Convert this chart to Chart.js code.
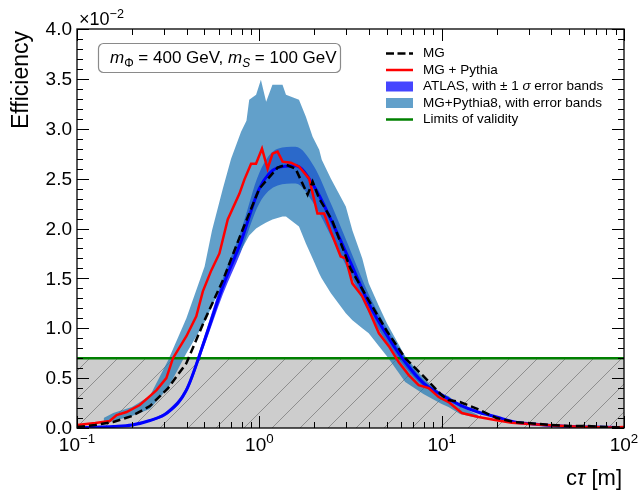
<!DOCTYPE html>
<html>
<head>
<meta charset="utf-8">
<script src="https://cdn.jsdelivr.net/npm/chart.js@4.4.1/dist/chart.umd.min.js"></script>
<style>
  body { margin: 0; background: #fff; }
  canvas { display: block; }
</style>
</head>
<body>
<canvas id="myChart" width="639" height="493"></canvas>
<script>
// valeurs (efficacite en unites de 1e-2)
const gridX = [0.1, 0.126, 0.158, 0.2, 0.251, 0.316, 0.398, 0.501, 0.631, 0.794, 1, 1.26, 1.58, 2, 2.51, 3.16, 3.98, 5.01, 6.31, 7.94, 10, 12.6, 15.8, 20, 25.1, 31.6, 39.8, 50.1, 63.1, 79.4, 100];
const atlasY  = [0.005, 0.008, 0.015, 0.03, 0.075, 0.16, 0.38, 0.88, 1.42, 1.87, 2.40, 2.61, 2.63, 2.42, 2.06, 1.66, 1.25, 0.93, 0.66, 0.45, 0.33, 0.23, 0.16, 0.11, 0.06, 0.04, 0.025, 0.015, 0.01, 0.007, 0.005];
const atlasHi = [0.006, 0.009, 0.017, 0.034, 0.085, 0.18, 0.41, 0.93, 1.50, 1.98, 2.56, 2.80, 2.82, 2.62, 2.22, 1.78, 1.34, 1.00, 0.71, 0.48, 0.35, 0.245, 0.17, 0.115, 0.065, 0.043, 0.027, 0.016, 0.011, 0.008, 0.006];
const atlasLo = [0.004, 0.007, 0.013, 0.026, 0.065, 0.14, 0.35, 0.83, 1.34, 1.77, 2.25, 2.43, 2.45, 2.24, 1.90, 1.54, 1.16, 0.86, 0.61, 0.42, 0.31, 0.215, 0.15, 0.105, 0.055, 0.037, 0.023, 0.014, 0.009, 0.006, 0.004];

// MG + Pythia (rouge)
const redX = [0.1, 0.126, 0.151, 0.165, 0.187, 0.221, 0.251, 0.273, 0.309, 0.336, 0.398, 0.451, 0.49, 0.545, 0.604, 0.671, 0.778, 0.828, 0.901, 0.959, 1.034, 1.11, 1.182, 1.259, 1.341, 1.49, 1.654, 1.876, 2.083, 2.266, 2.465, 2.793, 2.977, 3.236, 3.668, 3.99, 4.527, 5.13, 5.82, 6.6, 7.48, 8.49, 9.63, 10.92, 12.91, 15.93, 19.65, 24.2, 36.9, 56.1, 84.9, 100];
const redY = [0.03, 0.05, 0.07, 0.13, 0.16, 0.23, 0.32, 0.38, 0.50, 0.70, 0.92, 1.12, 1.37, 1.58, 1.75, 2.09, 2.35, 2.49, 2.65, 2.65, 2.80, 2.60, 2.75, 2.77, 2.67, 2.66, 2.62, 2.50, 2.15, 2.15, 1.97, 1.72, 1.70, 1.45, 1.32, 1.18, 0.95, 0.82, 0.66, 0.53, 0.43, 0.40, 0.31, 0.26, 0.15, 0.11, 0.08, 0.053, 0.03, 0.013, 0.006, 0.01];

// MG (tirets noirs)
const mgX = [0.1, 0.126, 0.158, 0.2, 0.251, 0.316, 0.398, 0.501, 0.631, 0.794, 1, 1.26, 1.4, 1.58, 1.84, 1.96, 2.13, 2.51, 3.16, 3.98, 5.01, 6.31, 7.94, 10, 10.9, 12.6, 15.8, 20, 25.1, 31.6, 39.8, 50.1, 63.1, 79.4, 100];
const mgY = [0.01, 0.03, 0.06, 0.12, 0.22, 0.40, 0.65, 1.08, 1.48, 1.95, 2.40, 2.61, 2.64, 2.60, 2.34, 2.47, 2.30, 2.08, 1.60, 1.28, 0.97, 0.70, 0.52, 0.33, 0.28, 0.26, 0.19, 0.10, 0.06, 0.045, 0.03, 0.02, 0.02, 0.01, 0.005];

// MG+Pythia8, bande d'erreur
const bandX = [0.14, 0.158, 0.2, 0.251, 0.316, 0.398, 0.501, 0.55, 0.631, 0.7, 0.794, 0.85, 0.88, 0.96, 1.02, 1.09, 1.18, 1.34, 1.40, 1.65, 1.80, 1.96, 2.13, 2.2, 2.47, 2.98, 3.24, 3.67, 3.98, 4.53, 5.01, 6.31, 7.94, 10, 10.9, 12.6, 15.8];
const bandHi = [0.10, 0.15, 0.21, 0.32, 0.68, 1.10, 1.62, 1.98, 2.40, 2.70, 2.97, 3.08, 3.29, 3.34, 3.49, 3.27, 3.44, 3.44, 3.34, 3.29, 3.12, 2.92, 2.79, 2.69, 2.50, 2.22, 1.98, 1.70, 1.45, 1.22, 1.05, 0.72, 0.50, 0.34, 0.32, 0.22, 0.13];
const bandLo = [0.04, 0.07, 0.12, 0.19, 0.40, 0.75, 1.06, 1.22, 1.45, 1.60, 1.78, 1.88, 1.93, 2.00, 2.03, 2.06, 2.09, 2.12, 2.12, 2.02, 1.85, 1.70, 1.55, 1.50, 1.35, 1.15, 1.08, 1.00, 0.95, 0.82, 0.72, 0.46, 0.34, 0.24, 0.21, 0.14, 0.10];

const limitY = 0.7;

const FONT = "'Liberation Sans', Arial, sans-serif";

function pts(xs, ys) {
  return xs.map((x, i) => ({ x: x, y: ys[i] }));
}

// motif hachure pour la zone hors validite
function hatchPattern() {
  const c = document.createElement('canvas');
  c.width = 28; c.height = 28;
  const g = c.getContext('2d');
  g.fillStyle = '#cdcdcd';
  g.fillRect(0, 0, 28, 28);
  g.strokeStyle = '#8e8e8e';
  g.lineWidth = 1;
  g.beginPath();
  g.moveTo(-2, 30); g.lineTo(30, -2);
  g.stroke();
  return g.createPattern(c, 'repeat');
}

// texte avec morceaux italiques / indices / exposants
function richText(ctx, x, y, parts, size) {
  let cx = x;
  for (const p of parts) {
    const s = p.sub || p.sup ? size * 0.7 : size;
    ctx.font = (p.it ? 'italic ' : '') + s + 'px ' + FONT;
    const dy = p.sub ? size * 0.25 : (p.sup ? -size * 0.4 : 0);
    ctx.fillText(p.t, cx, y + dy);
    cx += ctx.measureText(p.t).width;
  }
  return cx - x;
}
function richWidth(ctx, parts, size) {
  let w = 0;
  for (const p of parts) {
    const s = p.sub || p.sup ? size * 0.7 : size;
    ctx.font = (p.it ? 'italic ' : '') + s + 'px ' + FONT;
    w += ctx.measureText(p.t).width;
  }
  return w;
}

const decor = {
  id: 'decor',
  afterDraw(chart) {
    const ctx = chart.ctx, a = chart.chartArea;
    const xs = chart.scales.x, ys = chart.scales.y;
    ctx.save();
    ctx.fillStyle = '#000';
    ctx.strokeStyle = '#000';

    // graduations vers l'interieur
    ctx.lineWidth = 1;
    ctx.beginPath();
    for (let d = -1; d <= 2; d++) {
      for (let m = 1; m <= 9; m++) {
        const v = m * Math.pow(10, d);
        if (v > 100.001) break;
        const px = Math.round(xs.getPixelForValue(v)) + 0.5;
        const len = m === 1 ? 12 : 6;
        ctx.moveTo(px, a.bottom); ctx.lineTo(px, a.bottom - len);
        ctx.moveTo(px, a.top); ctx.lineTo(px, a.top + len);
      }
    }
    for (let i = 0; i <= 40; i++) {
      const py = Math.round(ys.getPixelForValue(i / 10)) + 0.5;
      const len = i % 5 === 0 ? 12 : 6;
      ctx.moveTo(a.left, py); ctx.lineTo(a.left + len, py);
      ctx.moveTo(a.right, py); ctx.lineTo(a.right - len, py);
    }
    ctx.stroke();

    // cadre
    ctx.lineWidth = 1.3;
    ctx.strokeRect(a.left, a.top, a.right - a.left, a.bottom - a.top);

    // etiquettes y
    ctx.font = '19px ' + FONT;
    ctx.textAlign = 'right';
    ctx.textBaseline = 'middle';
    for (let i = 0; i <= 8; i++) {
      const v = i * 0.5;
      ctx.fillText(v.toFixed(1), a.left - 5, ys.getPixelForValue(v) + 1);
    }

    // etiquettes x : 10^n
    ctx.textAlign = 'left';
    ctx.textBaseline = 'alphabetic';
    ['\u22121', '0', '1', '2'].forEach((e, k) => {
      const parts = [{ t: '10' }, { t: e, sup: true }];
      const w = richWidth(ctx, parts, 19);
      const px = xs.getPixelForValue(Math.pow(10, k - 1));
      richText(ctx, px - w / 2, a.bottom + 23, parts, 19);
    });

    // facteur d'echelle
    richText(ctx, 79, 25, [{ t: '\u00d710' }, { t: '\u22122', sup: true }], 18);

    // titres des axes
    ctx.save();
    ctx.translate(28, a.top + 2);
    ctx.rotate(-Math.PI / 2);
    ctx.textAlign = 'right';
    ctx.font = '23px ' + FONT;
    ctx.fillText('Efficiency', 0, 0);
    ctx.restore();

    const xl = [{ t: 'c' }, { t: '\u03c4', it: true }, { t: ' [m]' }];
    const xw = richWidth(ctx, xl, 22);
    richText(ctx, a.right - 2 - xw, 485, xl, 22);

    // boite d'annotation
    ctx.beginPath();
    ctx.roundRect(98.5, 43.5, 242, 29, 5);
    ctx.fillStyle = '#fff';
    ctx.fill();
    ctx.strokeStyle = '#8a8a8a';
    ctx.lineWidth = 1.2;
    ctx.stroke();
    ctx.fillStyle = '#000';
    richText(ctx, 110, 63, [
      { t: 'm', it: true }, { t: '\u03a6', sub: true }, { t: ' = 400 GeV, ' },
      { t: 'm', it: true }, { t: 'S', it: true, sub: true }, { t: ' = 100 GeV' }
    ], 17);

    // legende
    const lx = 386, lw = 27, tx = 423;
    const rows = [53.5, 70, 86.5, 103, 119.5];
    ctx.lineWidth = 2.5;
    ctx.strokeStyle = '#000';
    ctx.setLineDash([8, 3.5]);
    ctx.beginPath(); ctx.moveTo(lx, rows[0]); ctx.lineTo(lx + lw, rows[0]); ctx.stroke();
    ctx.setLineDash([]);
    ctx.strokeStyle = '#ff0000';
    ctx.beginPath(); ctx.moveTo(lx, rows[1]); ctx.lineTo(lx + lw, rows[1]); ctx.stroke();
    ctx.fillStyle = 'rgba(0,0,255,0.73)';
    ctx.fillRect(lx, rows[2] - 5, lw, 10);
    ctx.fillStyle = 'rgba(31,119,180,0.7)';
    ctx.fillRect(lx, rows[3] - 5, lw, 10);
    ctx.strokeStyle = '#008000';
    ctx.beginPath(); ctx.moveTo(lx, rows[4]); ctx.lineTo(lx + lw, rows[4]); ctx.stroke();

    ctx.fillStyle = '#000';
    ctx.textBaseline = 'middle';
    const sz = 13.5;
    richText(ctx, tx, rows[0], [{ t: 'MG' }], sz);
    richText(ctx, tx, rows[1], [{ t: 'MG + Pythia' }], sz);
    richText(ctx, tx, rows[2], [{ t: 'ATLAS, with \u00b1 1 ' }, { t: '\u03c3', it: true }, { t: ' error bands' }], sz);
    richText(ctx, tx, rows[3], [{ t: 'MG+Pythia8, with error bands' }], sz);
    richText(ctx, tx, rows[4], [{ t: 'Limits of validity' }], sz);

    ctx.restore();
  }
};

const ctx = document.getElementById('myChart');

new Chart(ctx, {
  type: 'line',
  data: {
    datasets: [
      {
        // zone hachuree sous la limite
        data: [{ x: 0.1, y: limitY }, { x: 100, y: limitY }],
        borderWidth: 0,
        pointRadius: 0,
        fill: 'origin',
        backgroundColor: hatchPattern(),
        order: 10
      },
      {
        data: pts(gridX, atlasLo),
        borderWidth: 0,
        pointRadius: 0,
        fill: false,
        cubicInterpolationMode: 'monotone',
        order: 9
      },
      {
        data: pts(gridX, atlasHi),
        borderWidth: 0,
        pointRadius: 0,
        fill: '-1',
        backgroundColor: 'rgba(0,0,255,0.73)',
        cubicInterpolationMode: 'monotone',
        order: 8
      },
      {
        data: pts(bandX, bandLo),
        borderWidth: 0,
        pointRadius: 0,
        fill: false,
        order: 7
      },
      {
        data: pts(bandX, bandHi),
        borderWidth: 0,
        pointRadius: 0,
        fill: '-1',
        backgroundColor: 'rgba(31,119,180,0.7)',
        order: 6
      },
      {
        label: 'Limits of validity',
        data: [{ x: 0.1, y: limitY }, { x: 100, y: limitY }],
        borderColor: '#008000',
        borderWidth: 2.5,
        pointRadius: 0,
        fill: false,
        order: 5
      },
      {
        label: 'ATLAS',
        data: pts(gridX, atlasY),
        borderColor: '#0000ff',
        borderWidth: 3,
        pointRadius: 0,
        fill: false,
        cubicInterpolationMode: 'monotone',
        order: 4
      },
      {
        label: 'MG + Pythia',
        data: pts(redX, redY),
        borderColor: '#ff0000',
        borderWidth: 2.5,
        pointRadius: 0,
        fill: false,
        order: 3
      },
      {
        label: 'MG',
        data: pts(mgX, mgY),
        borderColor: '#000000',
        borderWidth: 2.5,
        borderDash: [8, 4],
        pointRadius: 0,
        fill: false,
        order: 2
      }
    ]
  },
  options: {
    responsive: false,
    animation: false,
    layout: { padding: { left: 77, right: 15, top: 29, bottom: 65 } },
    scales: {
      x: { type: 'logarithmic', min: 0.1, max: 100, display: false },
      y: { type: 'linear', min: 0, max: 4, display: false }
    },
    plugins: {
      legend: { display: false },
      tooltip: { enabled: false }
    }
  },
  plugins: [decor]
});
</script>
</body>
</html>
